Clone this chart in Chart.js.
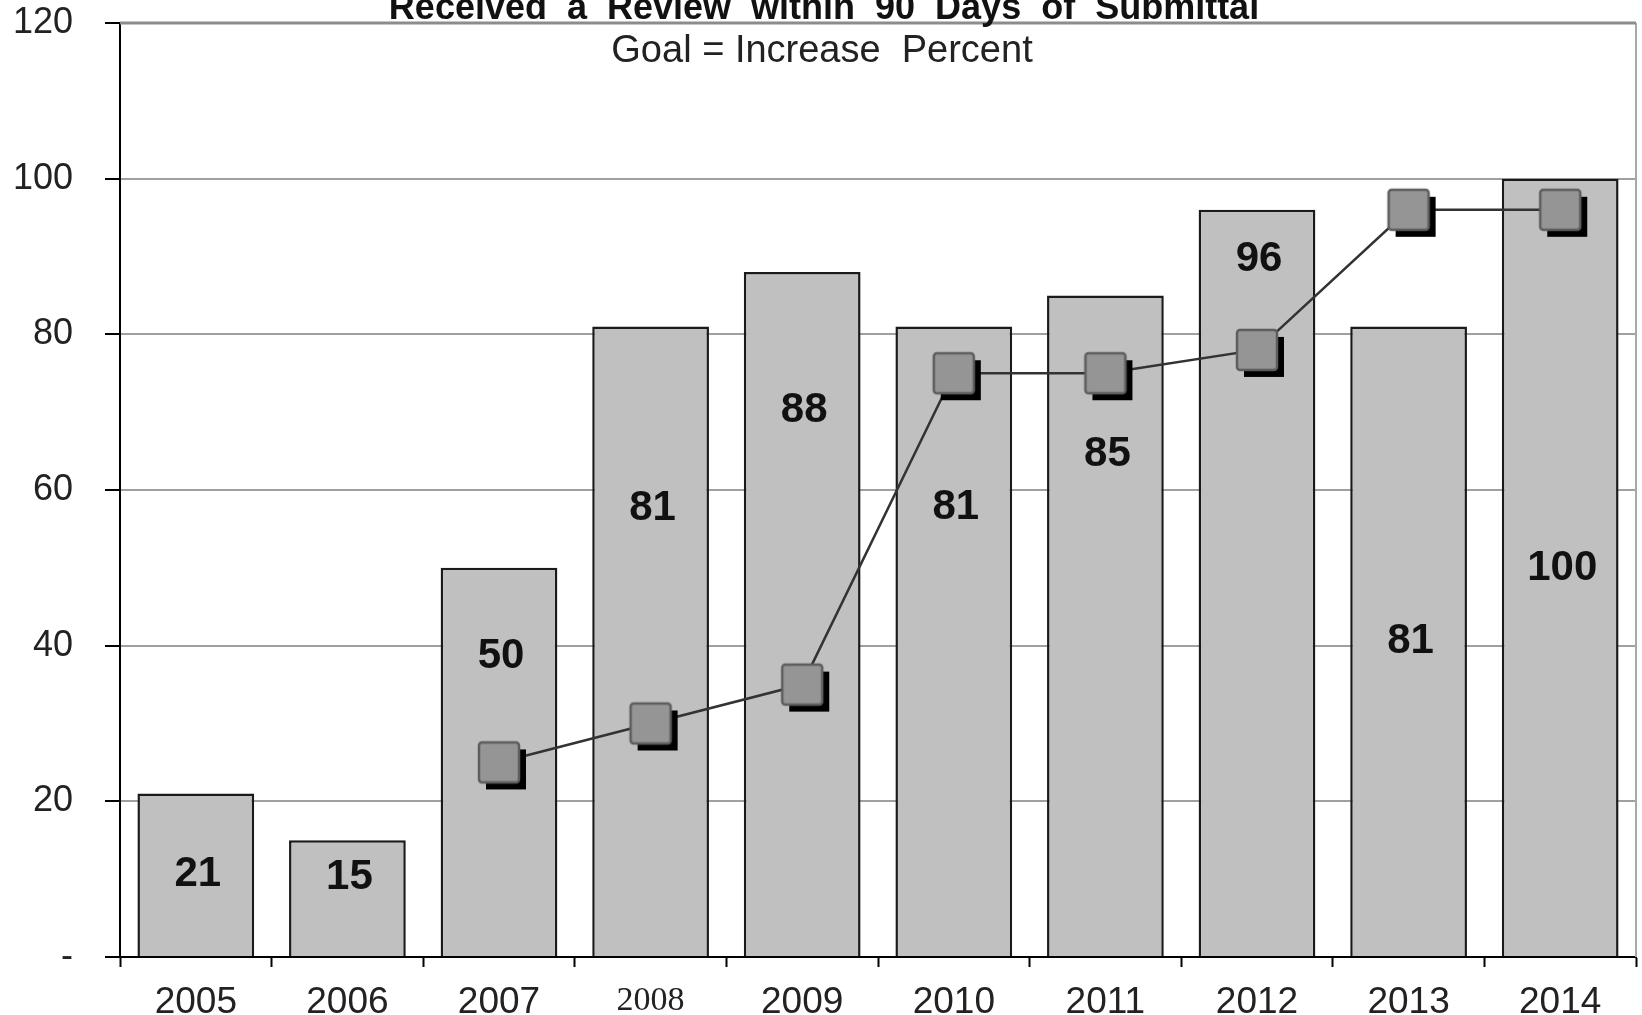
<!DOCTYPE html>
<html>
<head>
<meta charset="utf-8">
<script src="https://cdn.jsdelivr.net/npm/chart.js@4/dist/chart.umd.min.js"></script>
<style>
  html, body { margin: 0; padding: 0; background: #fff; }
  #wrap { width: 1642px; height: 1015px; }
</style>
</head>
<body>
<div id="wrap"><canvas id="chart" width="1642" height="1015"></canvas></div>
<script>
// chart data
const years = ['2005', '2006', '2007', '2008', '2009', '2010', '2011', '2012', '2013', '2014'];
const reviewPct = [21, 15, 50, 81, 88, 81, 85, 96, 81, 100];
const goalPct = [null, null, 25, 30, 35, 75, 75, 78, 96, 96];
// where each bar's number sits (in axis units), as placed in the original
const labelPos = [10.6, 10.2, 38.6, 57.6, 70.2, 57.8, 64.6, 89.6, 40.6, 49.9];
const titleText = 'Received  a  Review  within  90  Days  of  Submittal';
const subtitleText = 'Goal = Increase  Percent';

const FONT = '"Liberation Sans", Arial, sans-serif';

// square marker with a black drop shadow
function makeMarker() {
    const c = document.createElement('canvas');
    c.width = 70; c.height = 70;
    const g = c.getContext('2d');
    g.fillStyle = '#000';
    g.fillRect(22, 22, 40, 40);
    g.fillStyle = '#959595';
    g.strokeStyle = '#5e5e5e';
    g.lineWidth = 2.5;
    g.beginPath();
    g.roundRect(15, 15, 40, 40, 3);
    g.fill();
    g.stroke();
    return c;
}

const barLabels = {
    id: 'barLabels',
    afterDatasetDraw(chart, args) {
        if (args.index !== 1) return;
        const { ctx, scales } = chart;
        const meta = chart.getDatasetMeta(1);
        ctx.save();
        ctx.font = 'bold 42px ' + FONT;
        ctx.fillStyle = '#111';
        ctx.textAlign = 'center';
        ctx.textBaseline = 'middle';
        meta.data.forEach((bar, i) => {
            ctx.fillText(String(reviewPct[i]), bar.x + 2, scales.y.getPixelForValue(labelPos[i]));
        });
        ctx.restore();
    }
};

const frame = {
    id: 'frame',
    beforeDatasetsDraw(chart) {
        const { ctx, chartArea: a } = chart;
        ctx.save();
        ctx.strokeStyle = '#a8a8a8';
        ctx.lineWidth = 2;
        ctx.beginPath();
        ctx.moveTo(a.right, a.top);
        ctx.lineTo(a.right, a.bottom);
        ctx.stroke();
        ctx.strokeStyle = '#8c8c8c';
        ctx.lineWidth = 3;
        ctx.beginPath();
        ctx.moveTo(a.left, a.top);
        ctx.lineTo(a.right, a.top);
        ctx.stroke();
        ctx.restore();
    }
};

const titles = {
    id: 'titles',
    afterDraw(chart) {
        const { ctx, chartArea: a } = chart;
        ctx.save();
        ctx.textAlign = 'center';
        ctx.fillStyle = '#111';
        ctx.textBaseline = 'alphabetic';
        ctx.font = 'bold 36px ' + FONT;
        ctx.fillText(titleText, 824, 19);
        ctx.font = '38px ' + FONT;
        ctx.fillStyle = '#222';
        ctx.textBaseline = 'middle';
        ctx.fillText(subtitleText, 822, a.top + 29);
        ctx.restore();
    }
};

new Chart(document.getElementById('chart'), {
    data: {
        labels: years,
        datasets: [
            {
                type: 'line',
                label: 'Goal',
                data: goalPct,
                order: 0,
                borderColor: '#333',
                borderWidth: 2.5,
                pointStyle: makeMarker(),
                pointRadius: 20,
                tension: 0
            },
            {
                type: 'bar',
                label: 'Percent',
                data: reviewPct,
                order: 1,
                backgroundColor: '#c0c0c0',
                borderColor: '#1a1a1a',
                borderWidth: 2.5,
                categoryPercentage: 1,
                barPercentage: 0.77
            }
        ]
    },
    options: {
        responsive: false,
        animation: false,
        layout: { autoPadding: false, padding: { top: 23, right: 6, left: 0, bottom: 0 } },
        plugins: {
            legend: { display: false },
            tooltip: { enabled: false }
        },
        scales: {
            x: {
                offset: true,
                grid: {
                    offset: true,
                    drawOnChartArea: false,
                    drawTicks: true,
                    tickLength: 10,
                    tickColor: '#000',
                    tickWidth: 2
                },
                border: { color: '#000', width: 2 },
                ticks: {
                    color: '#222',
                    padding: 14,
                    font: ctx => ctx.index === 3
                        ? { family: '"Liberation Serif", serif', size: 34 }
                        : { family: FONT, size: 37 }
                },
                afterFit: s => {
                    s.height = 58;
                    s.paddingLeft = 0;
                    s.paddingRight = 0;
                }
            },
            y: {
                min: 0,
                max: 120,
                grid: {
                    color: '#a0a0a0',
                    lineWidth: 2,
                    tickColor: '#000',
                    tickLength: 15,
                    tickWidth: 2
                },
                border: { color: '#000', width: 2 },
                ticks: {
                    stepSize: 20,
                    color: '#222',
                    padding: 32,
                    font: { family: FONT, size: 36 },
                    callback: v => v === 0 ? '-' : v
                },
                afterFit: s => {
                    s.width = 120;
                    s.paddingTop = 0;
                    s.paddingBottom = 0;
                }
            }
        }
    },
    plugins: [frame, barLabels, titles]
});
</script>
</body>
</html>
